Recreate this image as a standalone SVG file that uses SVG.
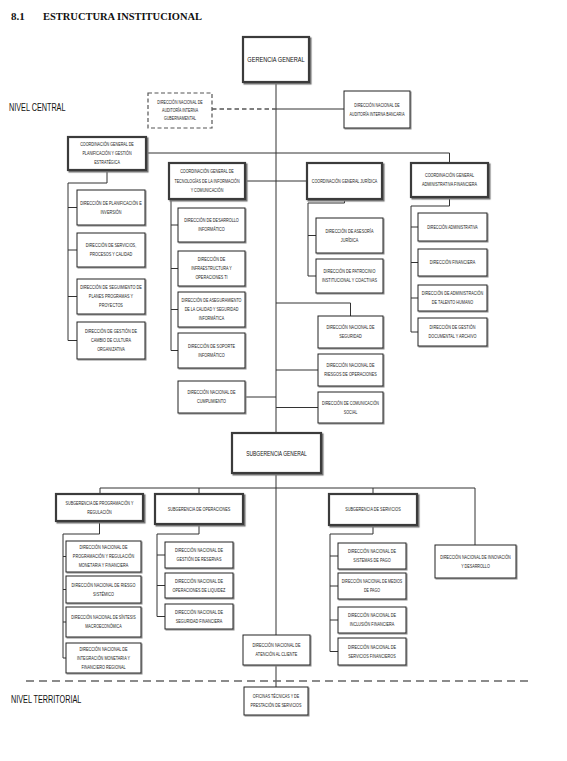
<svg xmlns="http://www.w3.org/2000/svg" width="567" height="761" viewBox="0 0 567 761">
<style>
.c{fill:#fff;stroke:#222;stroke-width:1;filter:url(#sh)}
.m{fill:#fff;stroke:#3a3a3a;stroke-width:2.2;filter:url(#sh2)}
.d{fill:#fff;stroke:#555;stroke-width:1.2;stroke-dasharray:4 2.5}
.t{font-family:"Liberation Sans","DejaVu Sans",sans-serif;font-size:5px;fill:#1a1a1a;text-anchor:middle}
.tb{font-family:"Liberation Sans","DejaVu Sans",sans-serif;font-size:7.5px;fill:#111;text-anchor:middle}
.lv{font-family:"Liberation Sans","DejaVu Sans",sans-serif;font-size:11px;fill:#111}
.ln{fill:none;stroke:#333;stroke-width:1}
.dl{fill:none;stroke:#555;stroke-width:1.3;stroke-dasharray:4.5 3}
.lvl{fill:none;stroke:#666;stroke-width:1.6;stroke-dasharray:8 5}
</style>
<defs>
<filter id="sh" x="-10%" y="-10%" width="130%" height="140%"><feDropShadow dx="1" dy="1" stdDeviation="0.3" flood-color="#888"/></filter>
<filter id="sh2" x="-10%" y="-10%" width="130%" height="140%"><feDropShadow dx="1.5" dy="1.5" stdDeviation="0.4" flood-color="#777"/></filter>
</defs>
<rect width="567" height="761" fill="#fff"/>
<text x="11" y="20" font-family="Liberation Serif,serif" font-weight="bold" font-size="11" fill="#111">8.1</text>
<text x="43" y="20" font-family="Liberation Serif,serif" font-weight="bold" font-size="11" fill="#111" textLength="159" lengthAdjust="spacingAndGlyphs">ESTRUCTURA INSTITUCIONAL</text>
<text class="lv" transform="translate(9 111) scale(.66 1)">NIVEL CENTRAL</text>
<text class="lv" transform="translate(11 703) scale(.66 1)">NIVEL TERRITORIAL</text>

<g id="connectors">
<path class="ln" d="M276 82V433M276 473V635M276 665V687"/>
<path class="dl" d="M212 109H276"/>
<path class="ln" d="M276 109H344"/>
<path class="ln" d="M146 153H449.5V163M245 181H307"/>
<path class="ln" d="M107 170V183H68V340.5M68 207.5H77M68 250H77M68 296.5H77M68 340.5H77"/>
<path class="ln" d="M171 199V350.5M171 225H178M171 268.5H178M171 309.5H178M171 350.5H178"/>
<path class="ln" d="M245 397H276"/>
<path class="ln" d="M344.5 199V203H308V276M308 235.5H316M308 276H316"/>
<path class="ln" d="M449.5 197V206H411V332M411 227H418M411 262.5H418M411 298H418M411 332H418"/>
<path class="ln" d="M276 303H350.5V316M276 370H318M276 407.5H318"/>
<path class="ln" d="M100 488H475M100 488V494M199 488V494M373 488V494M475 488V545"/>
<path class="ln" d="M99.5 521V534H63V658M63 556.5H66M63 589.5H66M63 622H66M63 658H66"/>
<path class="ln" d="M199 524V534H157V616.5M157 555H165M157 585.5H165M157 616.5H165"/>
<path class="ln" d="M373 525V534H330V651.5M330 556H338M330 586H338M330 620H338M330 651.5H338"/>
<path class="lvl" d="M26 681H533"/>
</g>

<g id="gerencia"><rect class="m" x="243" y="37" width="66" height="45"/><text class="tb" transform="translate(276 62.2) scale(.75 1)">GERENCIA GENERAL</text></g>
<g id="audgub"><rect class="d" x="148" y="93" width="64" height="35"/><text class="t" transform="translate(180 110.5) scale(.72 1)"><tspan x="0" y="-6.2">DIRECCIÓN NACIONAL DE</tspan><tspan x="0" y="1.8">AUDITORÍA INTERNA</tspan><tspan x="0" y="9.8">GUBERNAMENTAL</tspan></text></g>
<g id="audban"><rect class="c" x="344" y="91" width="66" height="37"/><text class="t" transform="translate(377 109.5) scale(.72 1)"><tspan x="0" y="-2.7">DIRECCIÓN NACIONAL DE</tspan><tspan x="0" y="6.3">AUDITORÍA INTERNA BANCARIA</tspan></text></g>

<g id="coordplan"><rect class="m" x="68" y="137" width="78" height="33"/><text class="t" transform="translate(107 153.5) scale(.74 1)"><tspan x="0" y="-7.2">COORDINACIÓN GENERAL DE</tspan><tspan x="0" y="1.8">PLANIFICACIÓN Y GESTIÓN</tspan><tspan x="0" y="10.8">ESTRATÉGICA</tspan></text></g>
<g id="coordtec"><rect class="m" x="169" y="163" width="76" height="36"/><text class="t" transform="translate(207 181) scale(.74 1)"><tspan x="0" y="-7.7">COORDINACIÓN GENERAL DE</tspan><tspan x="0" y="1.8">TECNOLOGÍAS DE LA INFORMACIÓN</tspan><tspan x="0" y="11.3">Y COMUNICACIÓN</tspan></text></g>
<g id="coordjur"><rect class="m" x="307" y="163" width="75" height="36"/><text class="t" transform="translate(344.5 181) scale(.74 1)"><tspan x="0" y="1.8">COORDINACIÓN GENERAL JURÍDICA</tspan></text></g>
<g id="coordadm"><rect class="m" x="411" y="163" width="77" height="34"/><text class="t" transform="translate(449.5 180) scale(.76 1)"><tspan x="0" y="-2.7">COORDINACIÓN GENERAL</tspan><tspan x="0" y="6.3">ADMINISTRATIVA FINANCIERA</tspan></text></g>

<g id="planinv"><rect class="c" x="77" y="190" width="68" height="35"/><text class="t" transform="translate(111 207.5) scale(.76 1)"><tspan x="0" y="-2.7">DIRECCIÓN DE PLANIFICACIÓN E</tspan><tspan x="0" y="6.3">INVERSIÓN</tspan></text></g>
<g id="servicios"><rect class="c" x="77" y="233" width="68" height="34"/><text class="t" transform="translate(111 250) scale(.76 1)"><tspan x="0" y="-2.7">DIRECCIÓN DE SERVICIOS,</tspan><tspan x="0" y="6.3">PROCESOS Y CALIDAD</tspan></text></g>
<g id="seguim"><rect class="c" x="77" y="279" width="68" height="35"/><text class="t" transform="translate(111 296.5) scale(.76 1)"><tspan x="0" y="-7.2">DIRECCIÓN DE SEGUIMIENTO DE</tspan><tspan x="0" y="1.8">PLANES PROGRAMAS Y</tspan><tspan x="0" y="10.8">PROYECTOS</tspan></text></g>
<g id="cultura"><rect class="c" x="77" y="322" width="68" height="37"/><text class="t" transform="translate(111 340.5) scale(.76 1)"><tspan x="0" y="-7.2">DIRECCIÓN DE GESTIÓN DE</tspan><tspan x="0" y="1.8">CAMBIO DE CULTURA</tspan><tspan x="0" y="10.8">ORGANIZATIVA</tspan></text></g>

<g id="desarrollo"><rect class="c" x="178" y="208" width="67" height="34"/><text class="t" transform="translate(211.5 225) scale(.76 1)"><tspan x="0" y="-2.7">DIRECCIÓN DE DESARROLLO</tspan><tspan x="0" y="6.3">INFORMÁTICO</tspan></text></g>
<g id="infra"><rect class="c" x="178" y="251" width="67" height="35"/><text class="t" transform="translate(211.5 268.5) scale(.76 1)"><tspan x="0" y="-7.2">DIRECCIÓN DE</tspan><tspan x="0" y="1.8">INFRAESTRUCTURA Y</tspan><tspan x="0" y="10.8">OPERACIONES TI</tspan></text></g>
<g id="asegur"><rect class="c" x="178" y="292" width="67" height="35"/><text class="t" transform="translate(211.5 309.5) scale(.74 1)"><tspan x="0" y="-7.2">DIRECCIÓN DE ASEGURAMIENTO</tspan><tspan x="0" y="1.8">DE LA CALIDAD Y SEGURIDAD</tspan><tspan x="0" y="10.8">INFORMÁTICA</tspan></text></g>
<g id="soporte"><rect class="c" x="178" y="333" width="67" height="35"/><text class="t" transform="translate(211.5 350.5) scale(.76 1)"><tspan x="0" y="-2.7">DIRECCIÓN DE SOPORTE</tspan><tspan x="0" y="6.3">INFORMÁTICO</tspan></text></g>
<g id="cumpl"><rect class="c" x="178" y="381" width="67" height="32"/><text class="t" transform="translate(211.5 397) scale(.76 1)"><tspan x="0" y="-2.7">DIRECCIÓN NACIONAL DE</tspan><tspan x="0" y="6.3">CUMPLIMIENTO</tspan></text></g>

<g id="asesoria"><rect class="c" x="316" y="218" width="67" height="35"/><text class="t" transform="translate(349.5 235.5) scale(.76 1)"><tspan x="0" y="-2.7">DIRECCIÓN DE ASESORÍA</tspan><tspan x="0" y="6.3">JURÍDICA</tspan></text></g>
<g id="patroc"><rect class="c" x="316" y="259" width="67" height="34"/><text class="t" transform="translate(349.5 276) scale(.76 1)"><tspan x="0" y="-2.7">DIRECCIÓN DE PATROCINIO</tspan><tspan x="0" y="6.3">INSTITUCIONAL Y COACTIVAS</tspan></text></g>

<g id="admin"><rect class="c" x="418" y="213" width="69" height="28"/><text class="t" transform="translate(452.5 227) scale(.72 1)"><tspan x="0" y="1.8">DIRECCIÓN ADMINISTRATIVA</tspan></text></g>
<g id="financ"><rect class="c" x="418" y="249" width="69" height="27"/><text class="t" transform="translate(452.5 262.5) scale(.76 1)"><tspan x="0" y="1.8">DIRECCIÓN FINANCIERA</tspan></text></g>
<g id="talento"><rect class="c" x="418" y="285" width="69" height="26"/><text class="t" transform="translate(452.5 298) scale(.76 1)"><tspan x="0" y="-2.7">DIRECCIÓN DE ADMINISTRACIÓN</tspan><tspan x="0" y="6.3">DE TALENTO HUMANO</tspan></text></g>
<g id="docum"><rect class="c" x="418" y="318" width="69" height="28"/><text class="t" transform="translate(452.5 332) scale(.76 1)"><tspan x="0" y="-2.7">DIRECCIÓN DE GESTIÓN</tspan><tspan x="0" y="6.3">DOCUMENTAL Y ARCHIVO</tspan></text></g>

<g id="seguridad"><rect class="c" x="318" y="316" width="65" height="32"/><text class="t" transform="translate(350.5 332) scale(.76 1)"><tspan x="0" y="-2.7">DIRECCIÓN NACIONAL DE</tspan><tspan x="0" y="6.3">SEGURIDAD</tspan></text></g>
<g id="riesgos"><rect class="c" x="318" y="354" width="65" height="32"/><text class="t" transform="translate(350.5 370) scale(.76 1)"><tspan x="0" y="-2.7">DIRECCIÓN NACIONAL DE</tspan><tspan x="0" y="6.3">RIESGOS DE OPERACIONES</tspan></text></g>
<g id="comunic"><rect class="c" x="318" y="392" width="65" height="31"/><text class="t" transform="translate(350.5 407.5) scale(.74 1)"><tspan x="0" y="-2.7">DIRECCIÓN DE COMUNICACIÓN</tspan><tspan x="0" y="6.3">SOCIAL</tspan></text></g>

<g id="subgen"><rect class="m" x="232" y="433" width="89" height="40"/><text class="tb" transform="translate(276.5 455.7) scale(.66 1)">SUBGERENCIA GENERAL</text></g>
<g id="subprog"><rect class="m" x="56" y="494" width="87" height="27"/><text class="t" transform="translate(99.5 507.5) scale(.74 1)"><tspan x="0" y="-2.7">SUBGERENCIA DE PROGRAMACIÓN Y</tspan><tspan x="0" y="6.3">REGULACIÓN</tspan></text></g>
<g id="subope"><rect class="m" x="155" y="494" width="88" height="30"/><text class="t" transform="translate(199 509) scale(.76 1)"><tspan x="0" y="1.8">SUBGERENCIA DE OPERACIONES</tspan></text></g>
<g id="subserv"><rect class="m" x="329" y="494" width="88" height="31"/><text class="t" transform="translate(373 509.5) scale(.76 1)"><tspan x="0" y="1.8">SUBGERENCIA DE SERVICIOS</tspan></text></g>
<g id="innov"><rect class="c" x="435" y="545" width="81" height="33"/><text class="t" transform="translate(475.5 561.5) scale(.74 1)"><tspan x="0" y="-2.7">DIRECCIÓN NACIONAL DE INNOVACIÓN</tspan><tspan x="0" y="6.3">Y DESARROLLO</tspan></text></g>

<g id="dnprog"><rect class="c" x="66" y="541" width="75" height="31"/><text class="t" transform="translate(103.5 556.5) scale(.76 1)"><tspan x="0" y="-7.2">DIRECCIÓN NACIONAL DE</tspan><tspan x="0" y="1.8">PROGRAMACIÓN Y REGULACIÓN</tspan><tspan x="0" y="10.8">MONETARIA Y FINANCIERA</tspan></text></g>
<g id="dnriesgo"><rect class="c" x="66" y="576" width="75" height="27"/><text class="t" transform="translate(103.5 589.5) scale(.76 1)"><tspan x="0" y="-2.7">DIRECCIÓN NACIONAL DE RIESGO</tspan><tspan x="0" y="6.3">SISTÉMICO</tspan></text></g>
<g id="dnsint"><rect class="c" x="66" y="607" width="75" height="30"/><text class="t" transform="translate(103.5 622) scale(.74 1)"><tspan x="0" y="-2.7">DIRECCIÓN NACIONAL DE SÍNTESIS</tspan><tspan x="0" y="6.3">MACROECONÓMICA</tspan></text></g>
<g id="dninteg"><rect class="c" x="66" y="643" width="75" height="30"/><text class="t" transform="translate(103.5 658) scale(.76 1)"><tspan x="0" y="-7.2">DIRECCIÓN NACIONAL DE</tspan><tspan x="0" y="1.8">INTEGRACIÓN MONETARIA Y</tspan><tspan x="0" y="10.8">FINANCIERO REGIONAL</tspan></text></g>

<g id="dnreserv"><rect class="c" x="165" y="542" width="68" height="26"/><text class="t" transform="translate(199 555) scale(.76 1)"><tspan x="0" y="-2.7">DIRECCIÓN NACIONAL DE</tspan><tspan x="0" y="6.3">GESTIÓN DE RESERVAS</tspan></text></g>
<g id="dnliq"><rect class="c" x="165" y="573" width="68" height="25"/><text class="t" transform="translate(199 585.5) scale(.76 1)"><tspan x="0" y="-2.7">DIRECCIÓN NACIONAL DE</tspan><tspan x="0" y="6.3">OPERACIONES DE LIQUIDEZ</tspan></text></g>
<g id="dnsegfin"><rect class="c" x="165" y="604" width="68" height="25"/><text class="t" transform="translate(199 616.5) scale(.76 1)"><tspan x="0" y="-2.7">DIRECCIÓN NACIONAL DE</tspan><tspan x="0" y="6.3">SEGURIDAD FINANCIERA</tspan></text></g>

<g id="atencion"><rect class="c" x="243" y="635" width="67" height="30"/><text class="t" transform="translate(276.5 650) scale(.76 1)"><tspan x="0" y="-2.7">DIRECCIÓN NACIONAL DE</tspan><tspan x="0" y="6.3">ATENCIÓN AL CLIENTE</tspan></text></g>

<g id="sispago"><rect class="c" x="338" y="543" width="68" height="26"/><text class="t" transform="translate(372 556) scale(.76 1)"><tspan x="0" y="-2.7">DIRECCIÓN NACIONAL DE</tspan><tspan x="0" y="6.3">SISTEMAS DE PAGO</tspan></text></g>
<g id="medios"><rect class="c" x="338" y="573" width="68" height="26"/><text class="t" transform="translate(372 586) scale(.72 1)"><tspan x="0" y="-2.7">DIRECCIÓN NACIONAL DE MEDIOS</tspan><tspan x="0" y="6.3">DE PAGO</tspan></text></g>
<g id="inclusion"><rect class="c" x="338" y="607" width="68" height="26"/><text class="t" transform="translate(372 620) scale(.76 1)"><tspan x="0" y="-2.7">DIRECCIÓN NACIONAL DE</tspan><tspan x="0" y="6.3">INCLUSIÓN FINANCIERA</tspan></text></g>
<g id="servfin"><rect class="c" x="338" y="638" width="68" height="27"/><text class="t" transform="translate(372 651.5) scale(.76 1)"><tspan x="0" y="-2.7">DIRECCIÓN NACIONAL DE</tspan><tspan x="0" y="6.3">SERVICIOS FINANCIEROS</tspan></text></g>

<g id="oficinas"><rect class="c" x="244" y="687" width="64" height="28"/><text class="t" transform="translate(276 701) scale(.74 1)"><tspan x="0" y="-2.7">OFICINAS TÉCNICAS Y DE</tspan><tspan x="0" y="6.3">PRESTACIÓN DE SERVICIOS</tspan></text></g>
</svg>
